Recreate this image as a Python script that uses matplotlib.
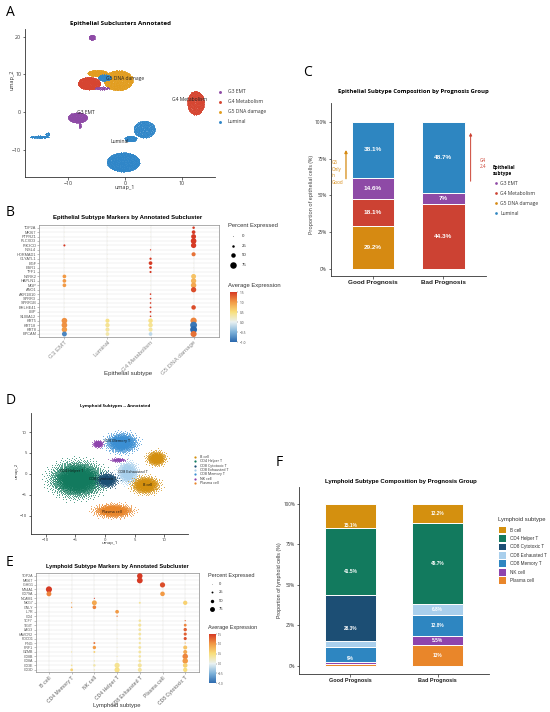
import numpy as np
import matplotlib
matplotlib.use('Agg')
import matplotlib.pyplot as plt
from matplotlib.colors import LinearSegmentedColormap, Normalize
from matplotlib.patches import Rectangle
import matplotlib.colorbar as mcolorbar

# ------------------------------------------------------------------ DATA
# Panel A: epithelial UMAP – blobs
epi_types = ['G3 EMT', 'G4 Metabolism', 'G5 DNA damage', 'Luminal']
epi_colors = ['#8e4aa6', '#d64531', '#e29d1f', '#2f86c8']
epi_blob_type = [1, 1, 2, 2, 0, 0, 0, 0, 3, 3, 3, 3, 3, 3]
epi_blob_cx = [-6.3, 12.4, -1.2, -4.8, -5.8, -8.3, -7.9, -4.0, -3.6, -15.0, -13.6, -0.3, 3.4, 1.0]
epi_blob_cy = [7.6, 2.4, 8.4, 10.3, 19.8, -1.5, -3.6, 6.3, 9.1, -6.6, -5.9, -13.3, -4.6, -7.1]
epi_blob_sx = [2.0, 1.5, 2.6, 1.8, 0.55, 1.7, 0.18, 1.3, 1.2, 1.7, 0.4, 2.9, 1.9, 1.1]
epi_blob_sy = [1.7, 3.2, 2.7, 0.9, 0.75, 1.4, 0.7, 0.45, 0.9, 0.35, 0.5, 2.6, 2.3, 0.8]
epi_blob_n = [900, 900, 1300, 350, 120, 600, 40, 90, 220, 150, 40, 1500, 700, 200]
epi_lab_text = ['G5 DNA damage', 'G4 Metabolism', 'G3 EMT', 'Luminal']
epi_lab_x = [-3.3, 8.2, -8.4, -2.6]
epi_lab_y = [8.8, 3.2, -0.3, -7.9]

# Panel B: epithelial marker dot plot
b_genes = ['TOP2A', 'MKI67', 'PTPRZ1', 'PLCXD3', 'PIK3CD', 'INSL4', 'HORMAD1', 'GLYATL1',
           'EGF', 'ESR1', 'TFF1', 'NTRK2', 'HAPLN1', 'MGP', 'ANO1', 'AKR1B10', 'SPRR3',
           'SPRR1B', 'BHLHE41', 'LBP', 'S100A12', 'KRT5', 'KRT18', 'KRT8', 'EPCAM']
b_groups = ['G3 EMT', 'Luminal', 'G4 Metabolism', 'G5 DNA damage']
b_group_colors = ['#8e44ad', '#c9413a', '#e59b2a', '#5aa2db']
b_pct_g3 = [1, 1, 1, 1, 20, 1, 1, 1, 1, 1, 1, 40, 40, 40, 1, 1, 1, 1, 1, 1, 1, 65, 65, 62, 55]
b_exp_g3 = [0.2, 0.2, 0.2, 0.2, 1.5, 0.2, 0.2, 0.2, 0.2, 0.2, 0.2, 1.0, 1.0, 1.0, 0.2, 0.2, 0.2, 0.2, 0.2, 0.2, 0.2, 1.05, 1.05, 1.0, -0.8]
b_pct_lum = [1, 1, 1, 1, 1, 1, 1, 1, 1, 1, 1, 1, 1, 1, 1, 1, 1, 1, 1, 1, 1, 45, 48, 45, 40]
b_exp_lum = [0.2] * 21 + [0.45, 0.4, 0.35, 0.3]
b_pct_g4 = [1, 1, 1, 1, 1, 10, 1, 22, 40, 28, 20, 1, 1, 1, 1, 14, 14, 14, 16, 16, 14, 50, 50, 45, 40]
b_exp_g4 = [0.2, 0.2, 0.2, 0.2, 0.2, 1.5, 0.2, 1.5, 1.5, 1.5, 1.5, 0.2, 0.2, 0.2, 0.2, 1.5, 1.5, 1.5, 1.5, 1.5, 1.5, 0.45, 0.4, 0.35, -0.2]
b_pct_g5 = [25, 40, 55, 65, 60, 1, 45, 1, 1, 1, 1, 55, 60, 62, 60, 1, 1, 1, 50, 1, 1, 72, 80, 80, 70]
b_exp_g5 = [1.5, 1.5, 1.5, 1.5, 1.5, 0.2, 1.2, 0.2, 0.2, 0.2, 0.2, 0.7, 0.8, 0.9, 1.4, 0.2, 0.2, 0.2, 1.4, 0.2, 0.2, 1.1, -0.9, -1.0, 1.2]

# Panel C: epithelial composition (%)
c_groups = ['Good Prognosis', 'Bad Prognosis']
c_types = ['G5 DNA damage', 'G4 Metabolism', 'G3 EMT', 'Luminal']   # bottom -> top
c_colors = ['#d68a12', '#cc4233', '#8e4aa6', '#2e86c1']
c_good = [29.2, 18.1, 14.6, 38.1]
c_bad = [0.0, 44.3, 7.0, 48.7]
c_legend_order = ['G3 EMT', 'G4 Metabolism', 'G5 DNA damage', 'Luminal']
c_legend_colors = ['#8e4aa6', '#cc4233', '#d68a12', '#2e86c1']

# Panel D: lymphoid UMAP blobs
lym_types = ['B cell', 'CD4 Helper T', 'CD8 Cytotoxic T', 'CD8 Exhausted T',
             'CD8 Memory T', 'NK cell', 'Plasma cell']
lym_colors = ['#d4900f', '#127a5e', '#1c4e74', '#a8d0ec', '#3b8fd3', '#8e44ad', '#e9862a']
lym_blob_type = [1, 4, 3, 0, 0, 6, 5, 5, 2]
lym_blob_cx = [-4.7, 2.8, 3.8, 6.8, 8.6, 1.4, -1.2, 2.2, 0.3]
lym_blob_cy = [-1.2, 7.5, 0.4, -2.6, 3.8, -8.7, 7.2, 3.4, -1.4]
lym_blob_sx = [3.0, 1.8, 1.2, 1.6, 1.1, 2.2, 0.6, 0.9, 1.2]
lym_blob_sy = [2.8, 1.6, 1.8, 1.4, 1.2, 1.1, 0.6, 0.35, 1.2]
lym_blob_n = [4500, 1500, 900, 1200, 700, 1300, 250, 120, 700]
lym_lab_text = ['CD8 Memory T', 'CD4 Helper T', 'CD8 Cytotoxic T', 'CD8 Exhausted T', 'B cell', 'Plasma cell']
lym_lab_x = [2.1, -5.6, -0.3, 4.8, 7.2, 1.1]
lym_lab_y = [7.9, 0.8, -1.2, 0.55, -2.6, -9.0]

# Panel E: lymphoid marker dot plot
e_genes = ['TOP2A', 'MKI67', 'IGHG1', 'MS4A1', 'CD79A', 'NCAM1', 'NKG7', 'GNLY', 'IL7R', 'CD4',
           'TCF7', 'TIGIT', 'LAG3', 'HAVCR2', 'PDCD1', 'IFNG', 'PRF1', 'GZMB', 'CD8B', 'CD8A',
           'CD3E', 'CD3D']
e_groups = ['B cell', 'CD4 Memory T', 'NK cell', 'CD4 Helper T', 'CD8 Exhausted T',
            'Plasma cell', 'CD8 Cytotoxic T']
e_group_colors = ['#e8912d', '#16977a', '#1f4e8c', '#8cc4ec', '#2e86c1', '#9b59b6', '#e8912d']
e_pct_b = [1, 1, 1, 95, 75, 1, 1, 1, 1, 1, 1, 1, 1, 1, 1, 1, 1, 1, 1, 1, 1, 1]
e_exp_b = [0.2, 0.2, 0.2, 1.5, 1.1] + [0.2] * 17
e_pct_mem = [1, 1, 1, 1, 1, 1, 12, 15, 1, 1, 1, 1, 1, 1, 1, 1, 1, 10, 1, 1, 20, 40]
e_exp_mem = [0.2] * 6 + [0.9, 1.0] + [0.2] * 9 + [0.5, 0.2, 0.2, 0.4, 0.6]
e_pct_nk = [1, 1, 1, 1, 1, 12, 75, 55, 1, 1, 1, 1, 1, 1, 1, 25, 50, 25, 1, 15, 35, 15]
e_exp_nk = [0.2] * 5 + [1.5, 0.9, 1.1] + [0.2] * 7 + [1.2, 1.0, 0.6, 0.2, 0.3, 0.3, 0.3]
e_pct_help = [1, 1, 1, 1, 1, 1, 1, 1, 55, 15, 5, 5, 5, 5, 5, 5, 5, 5, 10, 10, 80, 80]
e_exp_help = [0.2] * 8 + [1.0, 1.2] + [0.3] * 10 + [0.4, 0.45]
e_pct_exh = [85, 90, 1, 1, 1, 1, 25, 1, 1, 1, 35, 45, 40, 40, 35, 30, 40, 40, 35, 40, 60, 60]
e_exp_exh = [1.5, 1.5] + [0.2] * 4 + [0.4, 0.2, 0.2, 0.2] + [0.35] * 12
e_pct_pla = [1, 1, 80, 1, 70, 1, 1, 1, 1, 1, 1, 1, 1, 1, 1, 1, 1, 1, 1, 1, 1, 1]
e_exp_pla = [0.2, 0.2, 1.4, 0.2, 1.0] + [0.2] * 17
e_pct_cyt = [1, 1, 1, 1, 1, 1, 65, 1, 1, 1, 15, 40, 50, 45, 45, 15, 60, 60, 85, 85, 70, 65]
e_exp_cyt = [0.2] * 6 + [0.6, 0.2, 0.2, 0.2, 1.2, 1.1, 1.3, 1.3, 1.4, 0.8, 0.7, 0.9, 1.1, 1.0, 0.6, 0.5]

# Panel F: lymphoid composition (%)
f_types = ['Plasma cell', 'NK cell', 'CD8 Memory T', 'CD8 Exhausted T',
           'CD8 Cytotoxic T', 'CD4 Helper T', 'B cell']             # bottom -> top
f_colors = ['#e9862a', '#8e44ad', '#2e86c1', '#a9cfec', '#1c4e74', '#127a5e', '#d4900f']
f_good = [0.8, 1.6, 9.0, 3.7, 28.3, 41.5, 15.1]
f_bad = [13.0, 5.5, 12.8, 6.8, 0.0, 49.7, 12.2]
f_legend_order = ['B cell', 'CD4 Helper T', 'CD8 Cytotoxic T', 'CD8 Exhausted T',
                  'CD8 Memory T', 'NK cell', 'Plasma cell']

# ------------------------------------------------------------------ FIGURE
W, H = 550, 712
fig = plt.figure(figsize=(5.5, 7.12), dpi=100)
fig.patch.set_facecolor('white')
SANS = ['Open Sans', 'DejaVu Sans']
ARIAL = ['Liberation Sans', 'DejaVu Sans']
plt.rcParams['font.family'] = SANS


def ax_px(l, t, r, b):
    return fig.add_axes([l / W, 1 - b / H, (r - l) / W, (b - t) / H])


def blob(cx, cy, sx, sy, n, gaussian):
    i = np.arange(n)
    u = (i + 0.5) / n
    golden = np.pi * (3 - np.sqrt(5))
    th = i * golden
    if gaussian:
        r = np.sqrt(-2 * np.log(1 - u * 0.995)) / 1.6
    else:
        r = np.sqrt(u)
    return cx + sx * r * np.cos(th), cy + sy * r * np.sin(th)


cmap = LinearSegmentedColormap.from_list(
    'avg', [(0.0, '#2a68ad'), (0.2, '#7fb3da'), (0.4, '#e9f1f1'),
            (0.6, '#f8df7c'), (0.8, '#f29a45'), (1.0, '#d63a24')])
norm = Normalize(-1.0, 1.5)

overlay = fig.add_axes([0, 0, 1, 1], zorder=50)
overlay.set_xlim(0, W)
overlay.set_ylim(H, 0)
overlay.axis('off')
overlay.patch.set_alpha(0)


def otext(x, y, s, **kw):
    overlay.text(x, y, s, **kw)


def classic(ax, fs):
    for s in ['top', 'right']:
        ax.spines[s].set_visible(False)
    for s in ['left', 'bottom']:
        ax.spines[s].set_linewidth(0.6)
        ax.spines[s].set_color('#333333')
    ax.tick_params(length=1.8, width=0.5, labelsize=fs, colors='#333333', pad=1)


# panel letters
for letter, (x, y) in zip('ABCDEF', [(6, 12), (6, 212), (303, 72), (6, 400), (6, 562), (276, 463)]):
    otext(x, y, letter, fontsize=10, va='center', ha='left', family=SANS)

# ---------------- Panel A
axA = ax_px(25, 29, 215, 177)
for t, cx, cy, sx, sy, n in zip(epi_blob_type, epi_blob_cx, epi_blob_cy, epi_blob_sx, epi_blob_sy, epi_blob_n):
    x, y = blob(cx, cy, sx, sy, n, False)
    axA.scatter(x, y, s=0.35, c=epi_colors[t], linewidths=0)
for s, x, y in zip(epi_lab_text, epi_lab_x, epi_lab_y):
    axA.text(x, y, s, fontsize=3.6, ha='left', va='center', color='#222222')
axA.set_xlim(-17.5, 15.8)
axA.set_ylim(-17.3, 22)
axA.set_xticks([-10, 0, 10])
axA.set_yticks([-10, 0, 10, 20])
classic(axA, 3.8)
otext(120, 23, 'Epithelial Subclusters Annotated', fontsize=4.4, weight='bold', ha='center', va='center')
otext(125, 188, 'umap_1', fontsize=4.0, ha='center', va='center', color='#333333')
otext(12, 80, 'umap_2', fontsize=4.0, ha='center', va='center', rotation=90, color='#333333')
for k, (name, col) in enumerate(zip(epi_types, epi_colors)):
    yy = 91.5 + 10.1 * k
    overlay.scatter([220], [yy], s=4.5, c=col, linewidths=0)
    otext(228, yy, name, fontsize=3.6, va='center', ha='left', color='#333333')


# ---------------- Dot plots (B and E)
def dotplot(box, genes, groups, gcolors, pcts, exps, dfun, ylims, xlims, gfs, xfs, xweight):
    ax = ax_px(*box)
    ax.set_axisbelow(True)
    for j, (pc, ex) in enumerate(zip(pcts, exps)):
        d = dfun(np.array(pc, float))
        ax.scatter(np.full(len(genes), j + 1), np.arange(len(genes)), s=(d * 0.72) ** 2,
                   c=ex, cmap=cmap, norm=norm, linewidths=0, zorder=3)
    ax.set_xlim(*xlims)
    ax.set_ylim(*ylims)
    ax.set_yticks(np.arange(len(genes)))
    ax.set_yticklabels(genes, fontsize=gfs, color='#555555', family=ARIAL)
    ax.set_xticks(np.arange(1, len(groups) + 1))
    ax.set_xticklabels(groups, rotation=45, ha='right', va='top', rotation_mode='anchor',
                       fontsize=xfs, family=ARIAL, weight=xweight)
    for lab, col in zip(ax.get_xticklabels(), gcolors):
        lab.set_color(col)
    ax.grid(True, color='#e6e6e6', linewidth=0.35)
    for s in ax.spines.values():
        s.set_color('#8c8c8c')
        s.set_linewidth(0.5)
    ax.tick_params(length=1.2, width=0.4, colors='#8c8c8c', pad=0.8)
    for lab in ax.get_yticklabels():
        lab.set_color('#555555')
    return ax


def d_b(p):
    return 0.5 + 0.08 * p


def d_e(p):
    return 0.4 + 0.06 * p


axB = dotplot((39, 225, 219, 336.7), b_genes, b_groups, b_group_colors,
              [b_pct_g3, b_pct_lum, b_pct_g4, b_pct_g5], [b_exp_g3, b_exp_lum, b_exp_g4, b_exp_g5],
              d_b, (24.61, -0.61), (0.41, 4.59), 2.8, 4.4, 'normal')
otext(128, 217, 'Epithelial Subtype Markers by Annotated Subcluster', fontsize=4.3, weight='bold',
      ha='center', va='center', family=ARIAL)
otext(128, 373, 'Epithelial subtype', fontsize=4.4, ha='center', va='center', family=ARIAL, color='#333333')
otext(228, 226, 'Percent Expressed', fontsize=4.2, ha='left', va='center', family=ARIAL, color='#333333')
for k, p in enumerate([0, 25, 50, 75]):
    yy = 236 + 9.7 * k
    overlay.scatter([233], [yy], s=(d_b(p) * 0.72) ** 2, c='black', linewidths=0)
    otext(242, yy, str(p), fontsize=3.2, ha='left', va='center', family=ARIAL, color='#333333')
otext(228, 286, 'Average Expression', fontsize=4.2, ha='left', va='center', family=ARIAL, color='#333333')


def cbar(box, fs):
    cax = ax_px(*box)
    cb = mcolorbar.ColorbarBase(cax, cmap=cmap, norm=norm, orientation='vertical')
    cb.set_ticks([-1.0, -0.5, 0.0, 0.5, 1.0, 1.5])
    cb.ax.tick_params(labelsize=fs, length=1.0, width=0.3, colors='#444444', pad=0.8)
    cb.outline.set_visible(False)


cbar((229.5, 292, 237, 342), 2.3)

axE = dotplot((36, 573.3, 199.3, 672.3), e_genes, e_groups, e_group_colors,
              [e_pct_b, e_pct_mem, e_pct_nk, e_pct_help, e_pct_exh, e_pct_pla, e_pct_cyt],
              [e_exp_b, e_exp_mem, e_exp_nk, e_exp_help, e_exp_exh, e_exp_pla, e_exp_cyt],
              d_e, (21.55, -0.6), (0.43, 7.62), 2.6, 3.6, 'bold')
otext(117, 566.7, 'Lymphoid Subtype Markers by Annotated Subcluster', fontsize=4.1, weight='bold',
      ha='center', va='center', family=ARIAL)
otext(117, 705, 'Lymphoid subtype', fontsize=4.2, ha='center', va='center', family=ARIAL, color='#333333')
otext(208, 575, 'Percent Expressed', fontsize=4.0, ha='left', va='center', family=ARIAL, color='#333333')
for k, p in enumerate([0, 25, 50, 75]):
    yy = 584 + 8.4 * k
    overlay.scatter([212], [yy], s=(d_e(p) * 0.72) ** 2, c='black', linewidths=0)
    otext(219, yy, str(p), fontsize=3.0, ha='left', va='center', family=ARIAL, color='#333333')
otext(208, 628, 'Average Expression', fontsize=4.0, ha='left', va='center', family=ARIAL, color='#333333')
cbar((209, 634, 215.5, 683.3), 2.1)


# ---------------- stacked bars (C and F)
def stacked(ax, groups, types, colors, values_per_group, lab_fs, width, lab_min):
    for gi, vals in enumerate(values_per_group):
        bottom = 0.0
        for v, col in zip(vals, colors):
            if v > 0:
                ax.bar(gi + 1, v, bottom=bottom, width=width, color=col, edgecolor='white',
                       linewidth=0.7, zorder=2)
            bottom += v
        # label positions: stack of the labelled segments only
        lab_vals = [v for v in vals if v >= lab_min]
        cum = np.cumsum([0] + lab_vals)
        for k, v in enumerate(lab_vals):
            txt = ('%g' % v) + '%'
            ax.text(gi + 1, cum[k] + v / 2, txt, ha='center', va='center', color='white',
                    fontsize=lab_fs, weight='bold', zorder=3, family=ARIAL)
    ax.set_xticks([1, 2])
    ax.set_xticklabels(groups)
    ax.set_yticks([0, 25, 50, 75, 100])
    ax.set_yticklabels(['0%', '25%', '50%', '75%', '100%'])


axC = ax_px(330.7, 103.3, 485.7, 276)
stacked(axC, c_groups, c_types, c_colors, [c_good, c_bad], 4.6, 0.6, 5.0)
axC.set_xlim(0.4, 2.6)
axC.set_ylim(-5, 112.7)
classic(axC, 3.4)
for lab in axC.get_xticklabels():
    lab.set_fontsize(4.6)
    lab.set_weight('bold')
    lab.set_family(ARIAL)
    lab.set_color('#222222')
axC.annotate('', xy=(0.617, 82.8), xytext=(0.617, 59.4),
             arrowprops=dict(arrowstyle='-|>', color='#d68a12', lw=0.9, mutation_scale=4), annotation_clip=False)
axC.annotate('', xy=(2.386, 94.5), xytext=(2.386, 57.7),
             arrowprops=dict(arrowstyle='-|>', color='#cc4233', lw=0.7, mutation_scale=4), annotation_clip=False)
otext(331.5, 172.5, 'G5\nOnly\nin\nGood', fontsize=3.3, color='#d68a12', ha='left', va='center', linespacing=1.35)
otext(480, 163.5, 'G4\n2.4', fontsize=3.3, color='#cc4233', ha='left', va='center', linespacing=1.35)
otext(413, 92, 'Epithelial Subtype Composition by Prognosis Group', fontsize=4.2, weight='bold',
      ha='center', va='center')
otext(311, 195, 'Proportion of epithelial cells (%)', fontsize=3.9, rotation=90, ha='center', va='center',
      color='#333333')
otext(493, 170.5, 'Epithelial\nsubtype', fontsize=3.4, weight='bold', ha='left', va='center', linespacing=1.1)
for k, (name, col) in enumerate(zip(c_legend_order, c_legend_colors)):
    yy = 183.3 + 10 * k
    overlay.scatter([495.5], [yy], s=3.8, c=col, linewidths=0)
    otext(500.5, yy, name, fontsize=3.6, ha='left', va='center', color='#333333')

# ---------------- Panel D
axD = ax_px(30.7, 412.7, 188, 534)
order = np.argsort([0 if t == 1 else 1 for t in lym_blob_type], kind='stable')
for idx in order:
    t = lym_blob_type[idx]
    x, y = blob(lym_blob_cx[idx], lym_blob_cy[idx], lym_blob_sx[idx], lym_blob_sy[idx], lym_blob_n[idx], True)
    axD.scatter(x, y, s=0.3, c=lym_colors[t], linewidths=0)
for s, x, y in zip(lym_lab_text, lym_lab_x, lym_lab_y):
    axD.text(x, y, s, fontsize=2.7, ha='center', va='center', color='#111111')
axD.set_xlim(-12.5, 14)
axD.set_ylim(-14.3, 14.6)
axD.set_xticks([-10, -5, 0, 5, 10])
axD.set_yticks([-10, -5, 0, 5, 10])
classic(axD, 3.0)
otext(115, 406, 'Lymphoid Subtypes -- Annotated', fontsize=3.1, weight='bold', ha='center', va='center')
otext(110, 543, 'umap_1', fontsize=3.2, ha='center', va='center', color='#333333')
otext(17, 471, 'umap_2', fontsize=3.2, ha='center', va='center', rotation=90, color='#333333')
for k, (name, col) in enumerate(zip(lym_types, lym_colors)):
    yy = 456.7 + 4.4 * k
    overlay.scatter([195], [yy], s=2.6, c=col, linewidths=0)
    otext(199.5, yy, name, fontsize=2.6, ha='left', va='center', color='#333333')

# ---------------- Panel F
axF = ax_px(299, 486.7, 489, 674.3)
stacked(axF, c_groups, f_types, f_colors, [f_good, f_bad], 3.4, 0.59, 5.0)
axF.set_xlim(0.41, 2.59)
axF.set_ylim(-5.3, 110.5)
classic(axF, 3.3)
for lab in axF.get_xticklabels():
    lab.set_fontsize(4.0)
    lab.set_weight('bold')
    lab.set_family(ARIAL)
    lab.set_color('#222222')
otext(401, 481, 'Lymphoid Subtype Composition by Prognosis Group', fontsize=4.3, weight='bold',
      ha='center', va='center', family=ARIAL)
otext(279.5, 580, 'Proportion of lymphoid cells (%)', fontsize=3.8, rotation=90, ha='center', va='center',
      color='#333333', family=ARIAL)
otext(498, 520, 'Lymphoid subtype', fontsize=4.2, ha='left', va='center', color='#333333', family=ARIAL)
for k, name in enumerate(f_legend_order):
    yy = 530 + 8.45 * k
    col = f_colors[f_types.index(name)]
    overlay.add_patch(Rectangle((499.3, yy - 3.4), 6.8, 6.8, facecolor=col, edgecolor='none'))
    otext(510.5, yy, name, fontsize=3.3, ha='left', va='center', color='#333333', family=ARIAL)

fig.savefig('out.png', dpi=100, facecolor='white')
